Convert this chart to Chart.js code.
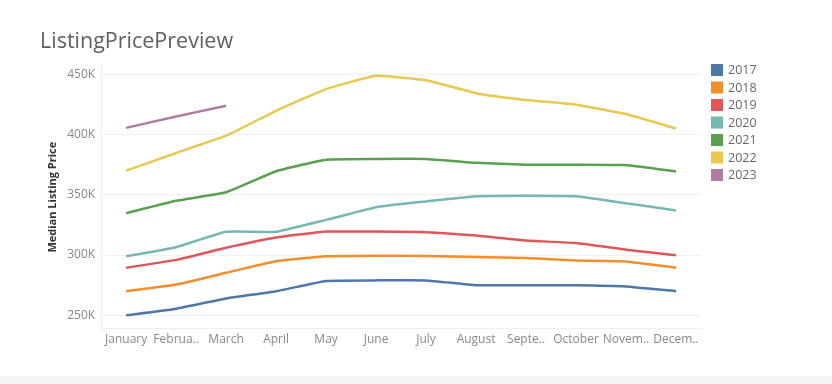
<!DOCTYPE html>
<html>
<head>
<meta charset="utf-8">
<script src="https://cdn.jsdelivr.net/npm/chart.js@4/dist/chart.umd.min.js"></script>
<style>
    body { margin: 0; background: #fff; }
    .wrap { position: relative; width: 832px; height: 376px; }
    .band { width: 832px; height: 8px; background: #f4f4f4; }
</style>
</head>
<body>
<div class="wrap"><canvas id="chart" width="832" height="376"></canvas></div>
<div class="band"></div>
<script>
const months = ['January', 'February', 'March', 'April', 'May', 'June', 'July', 'August', 'September', 'October', 'November', 'December']
const monthTicks = ['January', 'Februa..', 'March', 'April', 'May', 'June', 'July', 'August', 'Septe..', 'October', 'Novem..', 'Decem..']
const yTicks = [250000, 300000, 350000, 400000, 450000]

const years = ['2017', '2018', '2019', '2020', '2021', '2022', '2023']
const colors = ['#4e79a7', '#f28e2b', '#e15759', '#76b7b2', '#59a14f', '#e9c84f', '#b07aa1']

const y2017 = [250000, 255500, 264000, 270000, 278500, 279000, 279000, 275000, 275000, 275000, 274000, 270000]
const y2018 = [270000, 275500, 285300, 294800, 299000, 299500, 299300, 298300, 297500, 295500, 294700, 289500]
const y2019 = [289500, 296000, 306000, 314500, 319500, 319500, 319000, 316200, 312000, 310000, 304500, 299800]
const y2020 = [299000, 306500, 319300, 319300, 329200, 339700, 344500, 348800, 349300, 348800, 343000, 337000]
const y2021 = [334700, 345000, 352100, 369500, 379100, 379700, 379700, 376500, 375000, 375000, 374700, 369300]
const y2022 = [370000, 384700, 399000, 419700, 437700, 448700, 445000, 434300, 428600, 424700, 417000, 405000]
const y2023 = [405500, 415000, 423800]

const series = [y2017, y2018, y2019, y2020, y2021, y2022, y2023]

// legend drawn beside the plot, Tableau style
const sideLegend = {
    id: 'sideLegend',
    afterDraw(chart) {
        const ctx = chart.ctx
        const x = chart.chartArea.right + 10
        let y = 64
        ctx.save()
        ctx.font = '12.5px "Open Sans"'
        ctx.textBaseline = 'middle'
        chart.data.datasets.forEach(ds => {
            ctx.fillStyle = ds.borderColor
            ctx.fillRect(x, y, 12, 12)
            ctx.fillStyle = '#666'
            ctx.fillText(ds.label, x + 17, y + 6.5)
            y += 17.5
        })
        ctx.restore()
    }
}

const chart = new Chart(document.getElementById('chart'), {
    type: 'line',
    data: {
        labels: months,
        datasets: series.map((values, i) => ({
            label: years[i],
            data: values,
            borderColor: colors[i],
            backgroundColor: colors[i],
            borderWidth: 2.5,
            pointRadius: 0,
            tension: 0.12
        }))
    },
    options: {
        responsive: false,
        animation: false,
        layout: { padding: { left: 40, right: 131, top: 0, bottom: 25 } },
        plugins: {
            title: {
                display: true,
                text: 'ListingPricePreview',
                align: 'start',
                color: '#606060',
                font: { family: 'Open Sans', size: 21.5, weight: 'normal' },
                padding: { top: 29, bottom: 11 }
            },
            legend: { display: false },
            tooltip: { enabled: false }
        },
        scales: {
            x: {
                offset: true,
                grid: { display: false, drawTicks: false },
                border: { color: '#eeeeee' },
                ticks: {
                    autoSkip: false,
                    maxRotation: 0,
                    padding: 4,
                    color: '#888',
                    font: { family: 'Open Sans', size: 12 },
                    callback: (v, i) => monthTicks[i]
                }
            },
            y: {
                min: 239000,
                max: 457000,
                afterBuildTicks: axis => { axis.ticks = yTicks.map(v => ({ value: v })) },
                grid: { color: '#f0f0f0', drawTicks: false },
                border: { color: '#eeeeee' },
                ticks: {
                    padding: 6,
                    color: '#888',
                    font: { family: 'Open Sans', size: 12 },
                    callback: v => (v / 1000) + 'K'
                },
                title: {
                    display: true,
                    text: 'Median Listing Price',
                    color: '#333',
                    font: { family: 'Open Sans', size: 11, weight: 'bold' },
                    padding: { top: 6, bottom: 2 }
                }
            }
        }
    },
    plugins: [sideLegend]
})
</script>
</body>
</html>
